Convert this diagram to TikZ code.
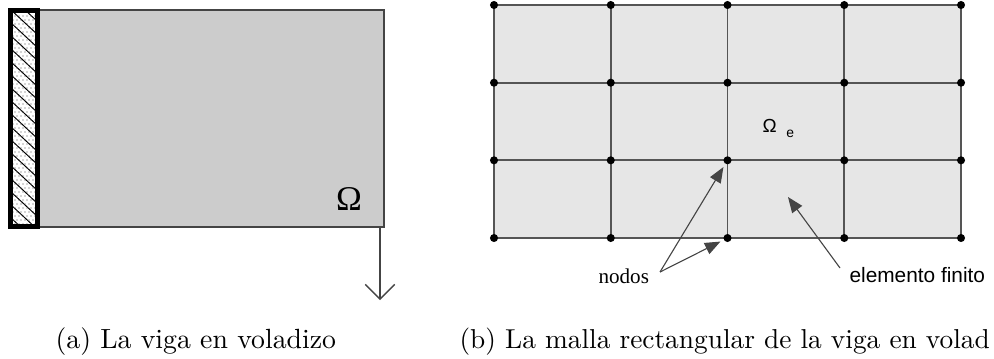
\documentclass[tikz,border=0pt]{standalone}
\usepackage{fontspec}
\newfontfamily\timesf{Liberation Serif}
\newfontfamily\arialf{Liberation Sans}
\usetikzlibrary{arrows.meta}
\definecolor{beamgray}{HTML}{CCCCCC}
\definecolor{meshgray}{HTML}{E6E6E6}
\definecolor{linegray}{HTML}{555555}
\definecolor{edgegray}{HTML}{444444}
\tikzset{
  meshline/.style={draw=linegray, line width=0.7pt},
  meshdot/.style={circle, fill=black, inner sep=0pt, minimum size=2.9pt},
  pointer/.style={draw=edgegray, line width=0.4pt, -{Triangle[length=5.6pt,width=4.4pt]}, shorten >=1.2pt},
  caption/.style={anchor=base west, inner sep=0pt},
}
\begin{document}
\begin{tikzpicture}[x=0.36pt,y=-0.36pt]
\useasboundingbox (0,0) rectangle (994,358);

% ---------- (a) cantilever beam ----------
\draw[fill=beamgray, draw=edgegray, line width=0.5pt] (39,10) rectangle (384,227);
\begin{scope}
  \clip (10.5,10.5) rectangle (37.5,226.5);
  \fill[white] (10.5,10.5) rectangle (37.5,226.5);
  \foreach \k in {-30,-17,...,240}
    \draw[line width=0.35pt] (10,\k) -- (38,\k+26);
  \foreach \r in {0,...,55} {
    \pgfmathsetmacro{\yy}{12+\r*4}
    \pgfmathsetmacro{\off}{mod(\r,2)*2}
    \foreach \c in {0,...,6}
      \fill[black!70] ({13+\c*4+\off},\yy) circle (0.25pt);
  }
\end{scope}
\draw[line width=1.8pt] (10.5,10.5) rectangle (37.5,226.5);

\node[font=\timesf\fontsize{12.5}{14}\selectfont] (omega) at (349,199) {Ω};

\coordinate (loadtop) at (380,227);
\coordinate (loadend) at (380,300);
\draw[draw=edgegray, line width=0.5pt, -{Straight Barb[length=5.3pt,width=10.6pt]}] (loadtop) -- (loadend);

% ---------- (b) mesh ----------
\foreach \i/\x in {0/494,1/610.75,2/727.5,3/844.25,4/961}
  \foreach \j/\y in {0/5,1/82.7,2/160.3,3/238}
    \coordinate (c\i\j) at (\x,\y);
\fill[meshgray] (c00) rectangle (c43);
\foreach \j in {0,1,2,3}
  \draw[meshline] (c0\j) -- (c4\j);
\foreach \i in {0,1,2,3,4}
  \draw[meshline] (c\i0) -- (c\i3);
\foreach \i in {0,1,2,3,4}
  \foreach \j in {0,1,2,3}
    \node[meshdot] (n\i\j) at (c\i\j) {};

\node[font=\arialf\fontsize{6.8}{8}\selectfont, anchor=base west, inner sep=0pt] (omegae) at (762,132)
  {Ω\hspace{3.5pt}\raisebox{-2.1pt}{\fontsize{5}{6}\selectfont e}};

\node[font=\timesf\fontsize{7.6}{9}\selectfont, anchor=base west, inner sep=0pt] (nodos) at (598,283) {nodos};
\node[font=\arialf\fontsize{7.5}{9}\selectfont, anchor=base west, inner sep=0pt] (elem) at (849,282) {elemento finito};
\coordinate (nodosfrom) at (660,272);
\coordinate (elemfrom) at (840,268);
\coordinate (elemtip) at (788,197);

\draw[pointer] (nodosfrom) -- (n22);
\draw[pointer] (nodosfrom) -- (n23);
\draw[pointer, shorten >=0pt] (elemfrom) -- (elemtip);

% ---------- captions ----------
\node[caption, font=\fontsize{10}{12}\selectfont] (capa) at (55,348) {(a) La viga en voladizo};
\node[caption, font=\fontsize{9.85}{12}\selectfont] (capb) at (459,348) {(b) La malla rectangular de la viga en volad};
\end{tikzpicture}
\end{document}
